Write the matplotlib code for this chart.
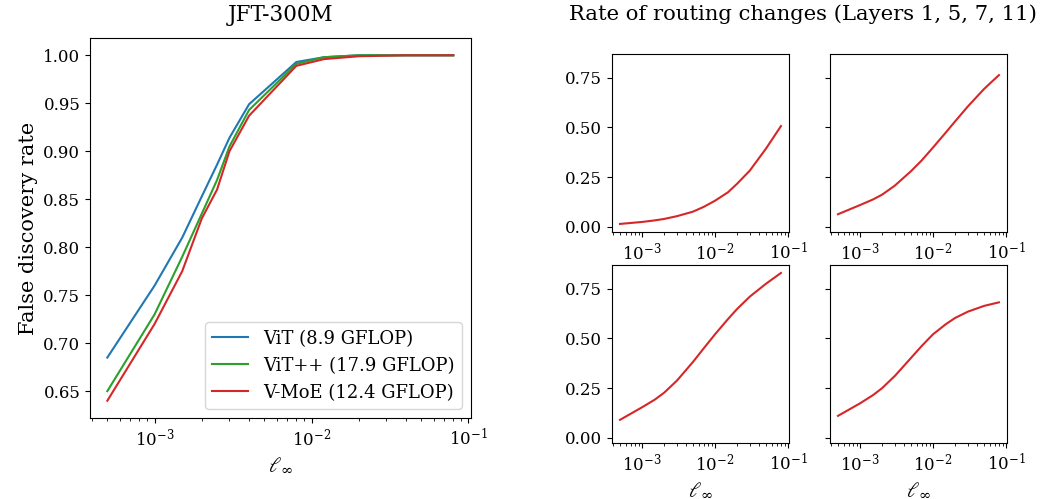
import numpy as np
import matplotlib
matplotlib.use('Agg')
import matplotlib.pyplot as plt

plt.rcParams['font.family'] = 'DejaVu Serif'
plt.rcParams['mathtext.fontset'] = 'dejavuserif'

# left panel: false discovery rate vs l_inf
eps = [5e-4, 1e-3, 1.5e-3, 2e-3, 2.5e-3, 3e-3, 4e-3, 8e-3, 1.2e-2, 2e-2, 4e-2, 8e-2]
fdr_vit = [0.685, 0.76, 0.81, 0.853, 0.886, 0.914, 0.949, 0.993, 0.998, 1.0, 1.0, 1.0]
fdr_vitpp = [0.65, 0.73, 0.79, 0.835, 0.87, 0.905, 0.943, 0.991, 0.998, 1.0, 1.0, 1.0]
fdr_vmoe = [0.64, 0.72, 0.775, 0.83, 0.86, 0.90, 0.937, 0.989, 0.996, 0.999, 1.0, 1.0]
labels = ['ViT (8.9 GFLOP)', 'ViT++ (17.9 GFLOP)', 'V-MoE (12.4 GFLOP)']

# right panels: routing change rate per layer
eps_r = [5e-4, 1e-3, 1.5e-3, 2e-3, 3e-3, 5e-3, 7e-3, 1e-2, 1.5e-2, 2e-2, 3e-2, 5e-2, 8e-2]
layer1 = [0.014, 0.024, 0.032, 0.039, 0.053, 0.076, 0.100, 0.131, 0.173, 0.216, 0.283, 0.394, 0.507]
layer5 = [0.063, 0.109, 0.137, 0.161, 0.207, 0.280, 0.334, 0.399, 0.475, 0.530, 0.606, 0.694, 0.764]
layer7 = [0.090, 0.153, 0.192, 0.226, 0.287, 0.382, 0.450, 0.521, 0.597, 0.648, 0.711, 0.776, 0.830]
layer11 = [0.110, 0.173, 0.214, 0.249, 0.311, 0.402, 0.462, 0.521, 0.572, 0.603, 0.635, 0.664, 0.682]

colors = ['tab:blue', 'tab:green', 'tab:red']
fs = 12

fig = plt.figure(figsize=(10.42, 4.99), dpi=100)

ax = fig.add_axes([0.0864, 0.1623, 0.3652, 0.7615])
for vals, lab, c in zip([fdr_vit, fdr_vitpp, fdr_vmoe], labels, colors):
    ax.plot(eps, vals, color=c, label=lab, lw=1.5)
ax.set_xscale('log')
ax.set_yticks([0.65, 0.70, 0.75, 0.80, 0.85, 0.90, 0.95, 1.00])
ax.tick_params(labelsize=fs)
ax.set_ylabel('False discovery rate', fontsize=15)
ax.set_xlabel(r'$\ell_\infty$', fontsize=15)
ax.set_title('JFT-300M', fontsize=15.5, pad=12)
ax.legend(loc='lower right', fontsize=13)

lefts = [0.5873, 0.7965]
bottoms = [0.535, 0.1122]
w, h = 0.1699, 0.357
layers = [layer1, layer5, layer7, layer11]
axs = []
for i, vals in enumerate(layers):
    r, c = divmod(i, 2)
    a = fig.add_axes([lefts[c], bottoms[r], w, h], sharey=axs[0] if axs else None)
    a.plot(eps_r, vals, color='tab:red', lw=1.5)
    a.set_xscale('log')
    a.tick_params(labelsize=fs)
    if c == 1:
        a.tick_params(labelleft=False)
    if r == 1:
        a.set_xlabel(r'$\ell_\infty$', fontsize=15)
    axs.append(a)
axs[0].set_yticks([0.0, 0.25, 0.5, 0.75])

fig.text(0.771, 0.972, 'Rate of routing changes (Layers 1, 5, 7, 11)',
         ha='center', va='center', fontsize=15.2)

plt.savefig('out.png', dpi=100)
